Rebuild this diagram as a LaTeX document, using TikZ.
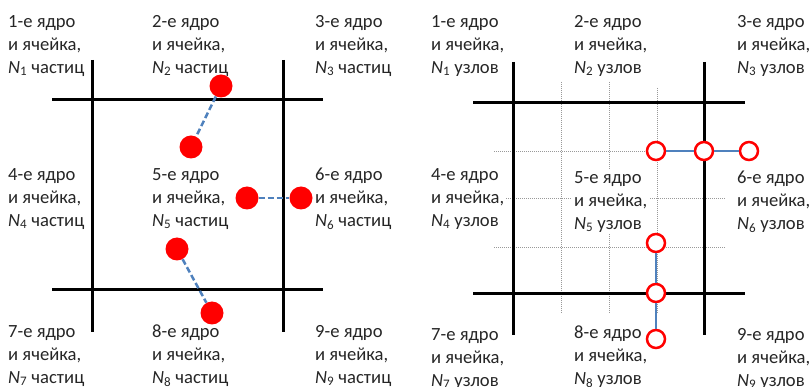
\documentclass[tikz,border=0pt]{standalone}
\usepackage{fontspec}
\setmainfont{Carlito}
\definecolor{lnkblue}{HTML}{4F81BD}
\definecolor{txtgray}{HTML}{262626}
\newcommand{\Nk}[1]{\textit{N}\textsubscript{#1}}
\tikzset{
  cell/.style={anchor=north west, align=left, fill=white, inner sep=2pt,
               text=txtgray, font=\fontsize{18.6}{23}\selectfont},
  bnd/.style={line width=3pt, draw=black},
  sub/.style={line width=0.8pt, draw=gray!80, dash pattern=on 1pt off 1pt},
  part/.style={circle, fill=red, minimum size=23pt, inner sep=0pt},
  knot/.style={circle, draw=red, fill=white, line width=2.5pt,
               minimum size=18pt, inner sep=0pt},
  lnk/.style={dash pattern=on 6pt off 3pt, line width=2.5pt, draw=lnkblue},
  bond/.style={line width=2.5pt, draw=lnkblue},
}

\begin{document}
\begin{tikzpicture}[x=1pt, y=-1pt]
\useasboundingbox (0,0) rectangle (812,387);

% right panel: fine mesh inside cell 5
\foreach \x/\t in {561/82, 609/82, 657/88}
  \draw[sub] (\x,\t) -- (\x,314);
\foreach \y in {151, 198, 247}
  \draw[sub] (494,\y) -- (726,\y);

% cell boundaries
\draw[bnd] (52,100) -- (323,100);
\draw[bnd] (52,290) -- (323,290);
\draw[bnd] (92,60) -- (92,332);
\draw[bnd] (283,60) -- (283,332);

\draw[bnd] (473,103) -- (745,103);
\draw[bnd] (473,294) -- (745,294);
\draw[bnd] (513,62) -- (513,335);
\draw[bnd] (704,62) -- (704,335);

% labels: particles
\foreach \i/\x/\y in {1/8/27, 2/152/27, 3/315/27,
                      4/8/180, 5/152/180, 6/315/180,
                      7/8/337, 8/152/337, 9/315/337}
  \node[cell] (l\i) at (\x-2,\y-14) {\i-е ядро\\и ячейка,\\\Nk{\i} частиц};

% labels: mesh nodes
\foreach \i/\x/\y in {1/431/27, 2/574/27, 3/737/27,
                      4/431/180, 5/574/183, 6/737/183,
                      7/431/340, 8/574/338, 9/737/340}
  \node[cell] (r\i) at (\x-2,\y-14) {\i-е ядро\\и ячейка,\\\Nk{\i} узлов};

% particles crossing cell borders
\node[part] (p1) at (221,86) {};
\node[part] (p2) at (191,147) {};
\node[part] (p3) at (247,198) {};
\node[part] (p4) at (301,198) {};
\node[part] (p5) at (177,249) {};
\node[part] (p6) at (212,313) {};

\foreach \a/\b in {p1/p2, p3/p4, p5/p6}
  \draw[lnk] (\a) -- (\b);

% mesh nodes shared by neighbouring cells
\node[knot] (k1) at (656,151) {};
\node[knot] (k2) at (704,151) {};
\node[knot] (k3) at (749,151) {};
\node[knot] (k4) at (656,243) {};
\node[knot] (k5) at (656,293) {};
\node[knot] (k6) at (656,339) {};

\foreach \a/\b in {k1/k2, k2/k3, k4/k5, k5/k6}
  \draw[bond] (\a) -- (\b);

\end{tikzpicture}
\end{document}
